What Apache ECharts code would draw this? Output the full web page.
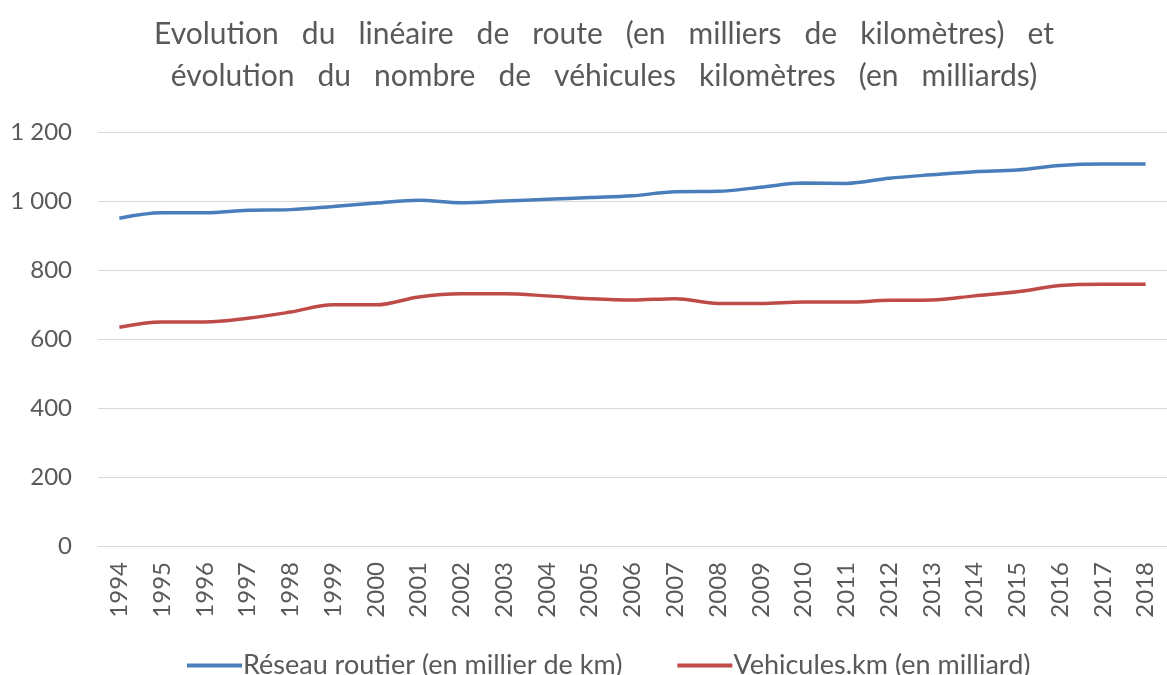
<!DOCTYPE html>
<html>
<head>
<meta charset="utf-8">
<script src="https://cdn.jsdelivr.net/npm/echarts@6/dist/echarts.min.js"></script>
<style>
  html, body { margin: 0; padding: 0; background: #fff; }
  #chart { width: 1167px; height: 675px; }
</style>
</head>
<body>
<div id="chart"></div>
<script>
// Years on the category axis
const years = ['1994','1995','1996','1997','1998','1999','2000','2001','2002','2003','2004','2005',
  '2006','2007','2008','2009','2010','2011','2012','2013','2014','2015','2016','2017','2018'];

// Road network length (thousand km)
const reseauRoutier = [950, 966, 966, 973, 975, 984, 994, 1002, 995, 1000, 1005, 1010,
  1015, 1027, 1028, 1040, 1052, 1051, 1066, 1076, 1085, 1090, 1103, 1107, 1107];

// Vehicle-kilometres (billions)
const vehiculesKm = [634, 649, 649, 660, 678, 699, 699, 722, 731, 731, 725, 717,
  713, 717, 703, 703, 707, 707, 712, 713, 725, 737, 755, 759, 759];

// Value-axis ticks
const yTicks = [0, 200, 400, 600, 800, 1000, 1200];

const grey = '#595959';
const font = 'Lato, "Open Sans", sans-serif';

const chart = echarts.init(document.getElementById('chart'));
chart.setOption({
  animation: false,
  title: {
    text: 'Evolution   du   linéaire   de   route   (en   milliers   de   kilomètres)   et\névolution   du   nombre   de   véhicules   kilomètres   (en   milliards)',
    left: 599,
    top: 8,
    textAlign: 'center',
    textStyle: { color: grey, fontFamily: font, fontWeight: 'normal', fontSize: 30, lineHeight: 42, align: 'center' }
  },
  legend: {
    bottom: -9,
    left: 182,
    icon: 'rect',
    itemWidth: 55,
    itemHeight: 4,
    itemGap: 55,
    textStyle: { color: grey, fontFamily: font, fontSize: 27, padding: [0, 0, 0, -4] },
    data: ['Réseau routier (en millier de km)', 'Vehicules.km (en milliard)']
  },
  grid: { left: 98, top: 132, width: 1078, height: 414, containLabel: false },
  xAxis: {
    type: 'category',
    data: years,
    boundaryGap: true,
    axisLine: { show: true, lineStyle: { color: '#d9d9d9', width: 1 } },
    axisTick: { show: false },
    axisLabel: { rotate: 90, color: grey, fontFamily: font, fontSize: 24, margin: 16, interval: 0 }
  },
  yAxis: {
    type: 'value',
    min: yTicks[0],
    max: yTicks[yTicks.length - 1],
    interval: 200,
    axisLine: { show: false },
    axisTick: { show: false },
    splitLine: { lineStyle: { color: '#d9d9d9', width: 1 } },
    axisLabel: {
      color: grey, fontFamily: font, fontSize: 24, margin: 26,
      formatter: v => String(v).replace(/\B(?=(\d{3})+(?!\d))/g, ' ')
    }
  },
  series: [
    {
      name: 'Réseau routier (en millier de km)',
      type: 'line',
      data: reseauRoutier,
      smooth: 0.35,
      showSymbol: false,
      lineStyle: { color: '#4a7ebb', width: 3.5 },
      itemStyle: { color: '#4a7ebb' }
    },
    {
      name: 'Vehicules.km (en milliard)',
      type: 'line',
      data: vehiculesKm,
      smooth: 0.35,
      showSymbol: false,
      lineStyle: { color: '#be4b48', width: 3.5 },
      itemStyle: { color: '#be4b48' }
    }
  ]
});
</script>
</body>
</html>
